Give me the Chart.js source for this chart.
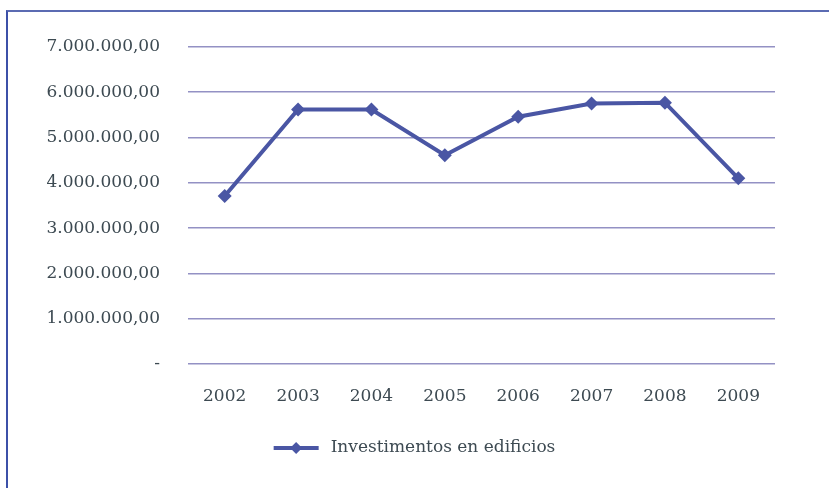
<!DOCTYPE html>
<html>
<head>
<meta charset="utf-8">
<script src="https://cdn.jsdelivr.net/npm/chart.js@4/dist/chart.umd.min.js"></script>
<style>
  html, body { margin: 0; padding: 0; background: #fff; }
  #frame {
    position: absolute; left: 6px; top: 10px; width: 900px; height: 600px;
    border-top: 2px solid #5b6bb2; border-left: 2px solid #3c50a8;
  }
  #wrap { position: absolute; left: 0; top: 0; width: 829px; height: 488px; }
</style>
</head>
<body>
<div id="frame"></div>
<div id="wrap"><canvas id="chart" width="829" height="488"></canvas></div>
<script>
  'use strict';

  var years = ['2002', '2003', '2004', '2005', '2006', '2007', '2008', '2009'];
  var seriesName = 'Investimentos en edificios';
  var investments = [3710000, 5620000, 5620000, 4610000, 5460000, 5750000, 5770000, 4100000];
  var yTicks = [0, 1000000, 2000000, 3000000, 4000000, 5000000, 6000000, 7000000];

  var lineColor = '#4a56a4';
  var textColor = '#3d4a52';
  var fontFamily = '"DejaVu Serif", serif';
  var fontSize = 17;

  function formatValue(v) {
    if (v === 0) return '-';
    var s = String(Math.round(v));
    var out = '';
    while (s.length > 3) {
      out = '.' + s.slice(-3) + out;
      s = s.slice(0, -3);
    }
    return s + out + ',00';
  }

  // legend drawn as line + diamond, like the spreadsheet original
  var lineLegend = {
    id: 'lineLegend',
    afterDraw: function (chart) {
      var ctx = chart.ctx;
      var ds = chart.data.datasets[0];
      ctx.save();
      ctx.font = fontSize + 'px ' + fontFamily;
      var textW = ctx.measureText(ds.label).width;
      var sampleW = 45, gap = 12;
      var x0 = chart.width / 2 - (sampleW + gap + textW) / 2;
      var y = 448;
      ctx.strokeStyle = lineColor;
      ctx.lineWidth = 4;
      ctx.beginPath();
      ctx.moveTo(x0, y);
      ctx.lineTo(x0 + sampleW, y);
      ctx.stroke();
      var cx = x0 + sampleW / 2, r = 6;
      ctx.fillStyle = lineColor;
      ctx.beginPath();
      ctx.moveTo(cx, y - r);
      ctx.lineTo(cx + r, y);
      ctx.lineTo(cx, y + r);
      ctx.lineTo(cx - r, y);
      ctx.closePath();
      ctx.fill();
      ctx.fillStyle = textColor;
      ctx.textAlign = 'left';
      ctx.textBaseline = 'middle';
      ctx.fillText(ds.label, x0 + sampleW + gap, y);
      ctx.restore();
    }
  };

  var ctx = document.getElementById('chart').getContext('2d');
  new Chart(ctx, {
    type: 'line',
    data: {
      labels: years,
      datasets: [{
        label: seriesName,
        data: investments,
        borderColor: lineColor,
        backgroundColor: lineColor,
        borderWidth: 4,
        pointStyle: 'rectRot',
        pointRadius: 7,
        pointBorderWidth: 0,
        tension: 0
      }]
    },
    options: {
      responsive: false,
      animation: false,
      layout: { padding: { top: 47, right: 54, left: 0, bottom: 0 } },
      plugins: {
        legend: { display: false },
        tooltip: { enabled: false }
      },
      scales: {
        x: {
          offset: true,
          grid: { display: false, drawTicks: false },
          border: { display: false },
          ticks: {
            color: textColor,
            padding: 22,
            font: { family: fontFamily, size: fontSize }
          },
          afterFit: function (scale) { scale.height = 124; }
        },
        y: {
          min: 0,
          max: 7000000,
          afterBuildTicks: function (scale) {
            scale.ticks = yTicks.map(function (v) { return { value: v }; });
          },
          grid: { color: '#9391c4', lineWidth: 1.6, drawTicks: false },
          border: { display: false },
          ticks: {
            color: textColor,
            padding: 28,
            font: { family: fontFamily, size: fontSize },
            callback: function (v) { return formatValue(v); }
          },
          afterFit: function (scale) { scale.width = 188; }
        }
      }
    },
    plugins: [lineLegend]
  });
</script>
</body>
</html>
